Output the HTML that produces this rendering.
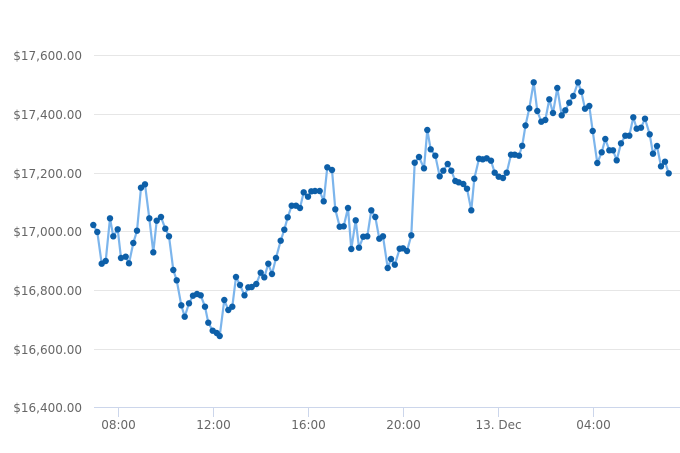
<!DOCTYPE html>
<html><head><meta charset="utf-8"><style>
html,body{margin:0;padding:0;background:#fff}
svg{display:block}
text{font-family:"DejaVu Sans","Liberation Sans",sans-serif;font-size:12px;fill:#666}
</style></head><body>
<svg width="680" height="453" viewBox="0 0 680 453" xmlns="http://www.w3.org/2000/svg">
<g stroke="#e6e6e6" stroke-width="1">
<line x1="94" y1="55.5" x2="680" y2="55.5"/>
<line x1="94" y1="114.5" x2="680" y2="114.5"/>
<line x1="94" y1="173.5" x2="680" y2="173.5"/>
<line x1="94" y1="231.5" x2="680" y2="231.5"/>
<line x1="94" y1="290.5" x2="680" y2="290.5"/>
<line x1="94" y1="349.5" x2="680" y2="349.5"/>
</g>
<g stroke="#ccd6eb" stroke-width="1">
<line x1="94" y1="407.5" x2="680" y2="407.5"/>
<line x1="118.5" y1="407" x2="118.5" y2="417"/>
<line x1="213.5" y1="407" x2="213.5" y2="417"/>
<line x1="308.5" y1="407" x2="308.5" y2="417"/>
<line x1="403.5" y1="407" x2="403.5" y2="417"/>
<line x1="498.5" y1="407" x2="498.5" y2="417"/>
<line x1="593.5" y1="407" x2="593.5" y2="417"/>
</g>
<g text-anchor="end">
<text x="82" y="60">$17,600.00</text>
<text x="82" y="119">$17,400.00</text>
<text x="82" y="178">$17,200.00</text>
<text x="82" y="236">$17,000.00</text>
<text x="82" y="295">$16,800.00</text>
<text x="82" y="354">$16,600.00</text>
<text x="82" y="412">$16,400.00</text>
</g>
<g text-anchor="middle">
<text x="118.5" y="429">08:00</text>
<text x="213.5" y="429">12:00</text>
<text x="308.5" y="429">16:00</text>
<text x="403.5" y="429">20:00</text>
<text x="498.5" y="429">13. Dec</text>
<text x="593.5" y="429">04:00</text>
</g>
<g id="s"></g>
</svg>
<script>
var p=[[93.3,225],[97.3,232],[101.7,263.7],[105.7,261],[110,218.3],[113.3,236.3],[117.7,229.3],[121,258],[125.7,256.7],[129,263.3],[133.3,243],[137,230.7],[141,187.7],[145,184.3],[149.3,218.3],[153.3,252.3],[156.7,220.7],[161,217],[165.3,228.7],[169,236.3],[173.3,270],[176.7,280.3],[181.3,305.3],[184.7,316.7],[189,303.3],[193,295.7],[197,294],[200.7,295.3],[205,306.7],[208.3,322.7],[212.7,330.7],[216.7,333],[219.7,336],[224.3,300],[228.3,310],[232.3,306.7],[236,277],[240,285],[244.5,295.3],[248.3,287.3],[251.7,287],[256.3,284],[260.7,272.7],[264.3,277.3],[268.3,263.7],[272,274],[276,258],[280.7,240.7],[284.3,229.7],[287.7,217.3],[291.7,205.7],[296,205.7],[300,208],[303.7,192.3],[308,196.7],[311.3,191.3],[315,191],[319.7,191],[323.7,201.3],[327.3,167.3],[332,170],[335.3,209.3],[339.7,226.7],[343.7,226.3],[348,208],[351.3,249],[355.7,220.3],[359,247.7],[363.3,236.7],[367.3,236.3],[371.3,210.3],[375.3,217],[379.3,238.7],[383,236.3],[387.7,268],[391,259],[394.8,264.7],[399.7,248.7],[403,248.3],[407,251],[411.3,235.3],[414.7,162.7],[419,157],[424,168.3],[427.3,130],[430.7,149.3],[435.3,155.7],[439.7,176.3],[443.3,170.7],[447.7,164],[451.3,170.7],[455.3,181],[458.7,182.3],[463.3,184],[467,188.7],[471.3,210.3],[474.3,178.7],[479,158.7],[482.7,159.3],[486.7,158.3],[491,160.7],[494.7,172.7],[498.7,176.7],[503,178],[506.7,172.7],[511,154.7],[514.7,154.7],[519,155.7],[522.2,145.8],[525.5,125.5],[529.3,108.3],[533.7,82.3],[537.3,111],[541.3,121.7],[545.3,120],[549.3,99.3],[553,113],[557.3,88],[561.7,115.3],[565.3,110.3],[569.3,102.7],[573.3,96],[578,82.3],[581.3,91.7],[585,108.7],[589.3,106],[592.7,131],[597.3,163],[601.7,152.3],[605.3,139],[609.3,150.3],[613,150.3],[616.7,160.3],[621,143.3],[625.3,135.7],[629.3,135.7],[633.3,117.3],[636.7,128.7],[641,127.7],[645,118.7],[649.7,134.3],[653,153.7],[657,146],[661,166.3],[665,161.7],[668.7,173.3]];
var g=document.getElementById('s'),ns='http://www.w3.org/2000/svg';
var path=document.createElementNS(ns,'path');
path.setAttribute('d','M'+p.map(function(a){return a[0]+' '+a[1]}).join(' L'));
path.setAttribute('fill','none');path.setAttribute('stroke','#7cb5ec');path.setAttribute('stroke-width','2.2');
path.setAttribute('stroke-linejoin','round');
g.appendChild(path);
p.forEach(function(a){var c=document.createElementNS(ns,'circle');c.setAttribute('cx',a[0]);c.setAttribute('cy',a[1]);c.setAttribute('r','3.2');c.setAttribute('fill','#0d5fa8');g.appendChild(c);});
</script>
</body></html>
